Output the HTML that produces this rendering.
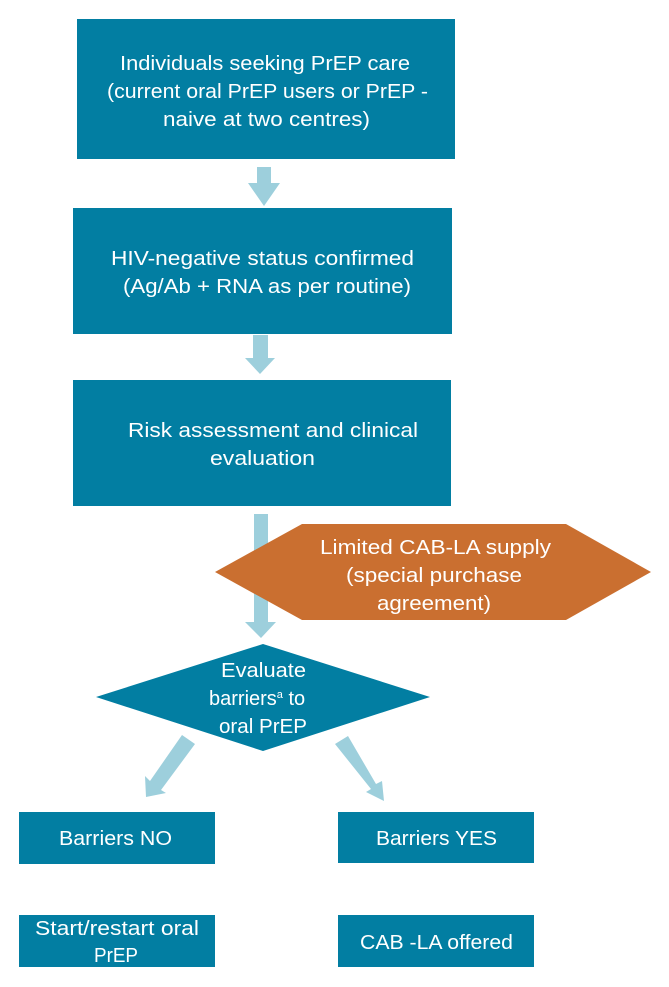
<!DOCTYPE html>
<html><head><meta charset="utf-8"><style>
html,body{margin:0;padding:0;background:#fff}
svg{display:block}
text{font-family:"Liberation Sans Narrow","Liberation Sans",sans-serif;fill:#fff;font-size:20px;text-anchor:middle}
</style></head><body>
<svg width="669" height="987" viewBox="0 0 669 987">
<g fill="#9dcfdc">
<polygon points="257,167 271,167 271,183 280,183 264,206 248,183 257,183"/>
<polygon points="253,335 268,335 268,358 275,358 260,374 245,358 253,358"/>
<polygon points="254,514 268,514 268,622 276,622 261,638 245,622 254,622"/>
<polygon points="182,735 195,744 161,790 166,793 146,797 145,776 150,781"/>
<polygon points="335,744 348,736 376,784 382,781 384,801 366,792 371,789"/>
</g>
<g fill="#027ea2">
<rect x="77" y="19" width="378" height="140"/>
<rect x="73" y="208" width="379" height="126"/>
<rect x="73" y="380" width="378" height="126"/>
<polygon points="96,697 263,644 430,697 263,751"/>
<rect x="19" y="812" width="196" height="52"/>
<rect x="338" y="812" width="196" height="51"/>
<rect x="19" y="915" width="196" height="52"/>
<rect x="338" y="915" width="196" height="52"/>
</g>
<polygon fill="#ca6f30" points="215,572 302,524 566,524 651,572 566,620 302,620"/>
<g style="text-anchor:start" lengthAdjust="spacingAndGlyphs">
<text x="120" y="70" textLength="290" lengthAdjust="spacingAndGlyphs" style="text-anchor:start">Individuals seeking PrEP care</text>
<text x="107" y="98" textLength="321" lengthAdjust="spacingAndGlyphs" style="text-anchor:start">(current oral PrEP users or PrEP -</text>
<text x="163" y="126" textLength="207" lengthAdjust="spacingAndGlyphs" style="text-anchor:start">naive at two centres)</text>
<text x="111" y="265" textLength="303" lengthAdjust="spacingAndGlyphs" style="text-anchor:start">HIV-negative status confirmed</text>
<text x="123" y="293" textLength="288" lengthAdjust="spacingAndGlyphs" style="text-anchor:start">(Ag/Ab + RNA as per routine)</text>
<text x="128" y="437" textLength="290" lengthAdjust="spacingAndGlyphs" style="text-anchor:start">Risk assessment and clinical</text>
<text x="210" y="465" textLength="105" lengthAdjust="spacingAndGlyphs" style="text-anchor:start">evaluation</text>
<text x="320" y="554" textLength="231" lengthAdjust="spacingAndGlyphs" style="text-anchor:start">Limited CAB-LA supply</text>
<text x="346" y="582" textLength="176" lengthAdjust="spacingAndGlyphs" style="text-anchor:start">(special purchase</text>
<text x="377" y="610" textLength="114" lengthAdjust="spacingAndGlyphs" style="text-anchor:start">agreement)</text>
<text x="221" y="677" textLength="85" lengthAdjust="spacingAndGlyphs" style="text-anchor:start">Evaluate</text>
<text x="209" y="705" style="text-anchor:start" font-size="19">barriers<tspan font-size="11" dy="-7">a</tspan><tspan dy="7"> to</tspan></text>
<text x="219" y="733" textLength="88" lengthAdjust="spacingAndGlyphs" style="text-anchor:start">oral PrEP</text>
<text x="59" y="845" textLength="113" lengthAdjust="spacingAndGlyphs" style="text-anchor:start">Barriers NO</text>
<text x="376" y="845" textLength="121" lengthAdjust="spacingAndGlyphs" style="text-anchor:start">Barriers YES</text>
<text x="35" y="935" textLength="164" lengthAdjust="spacingAndGlyphs" style="text-anchor:start">Start/restart oral</text>
<text x="94" y="962" textLength="44" lengthAdjust="spacingAndGlyphs" style="text-anchor:start">PrEP</text>
<text x="360" y="949" textLength="153" lengthAdjust="spacingAndGlyphs" style="text-anchor:start">CAB -LA offered</text>
</g>
</svg>
</body></html>
